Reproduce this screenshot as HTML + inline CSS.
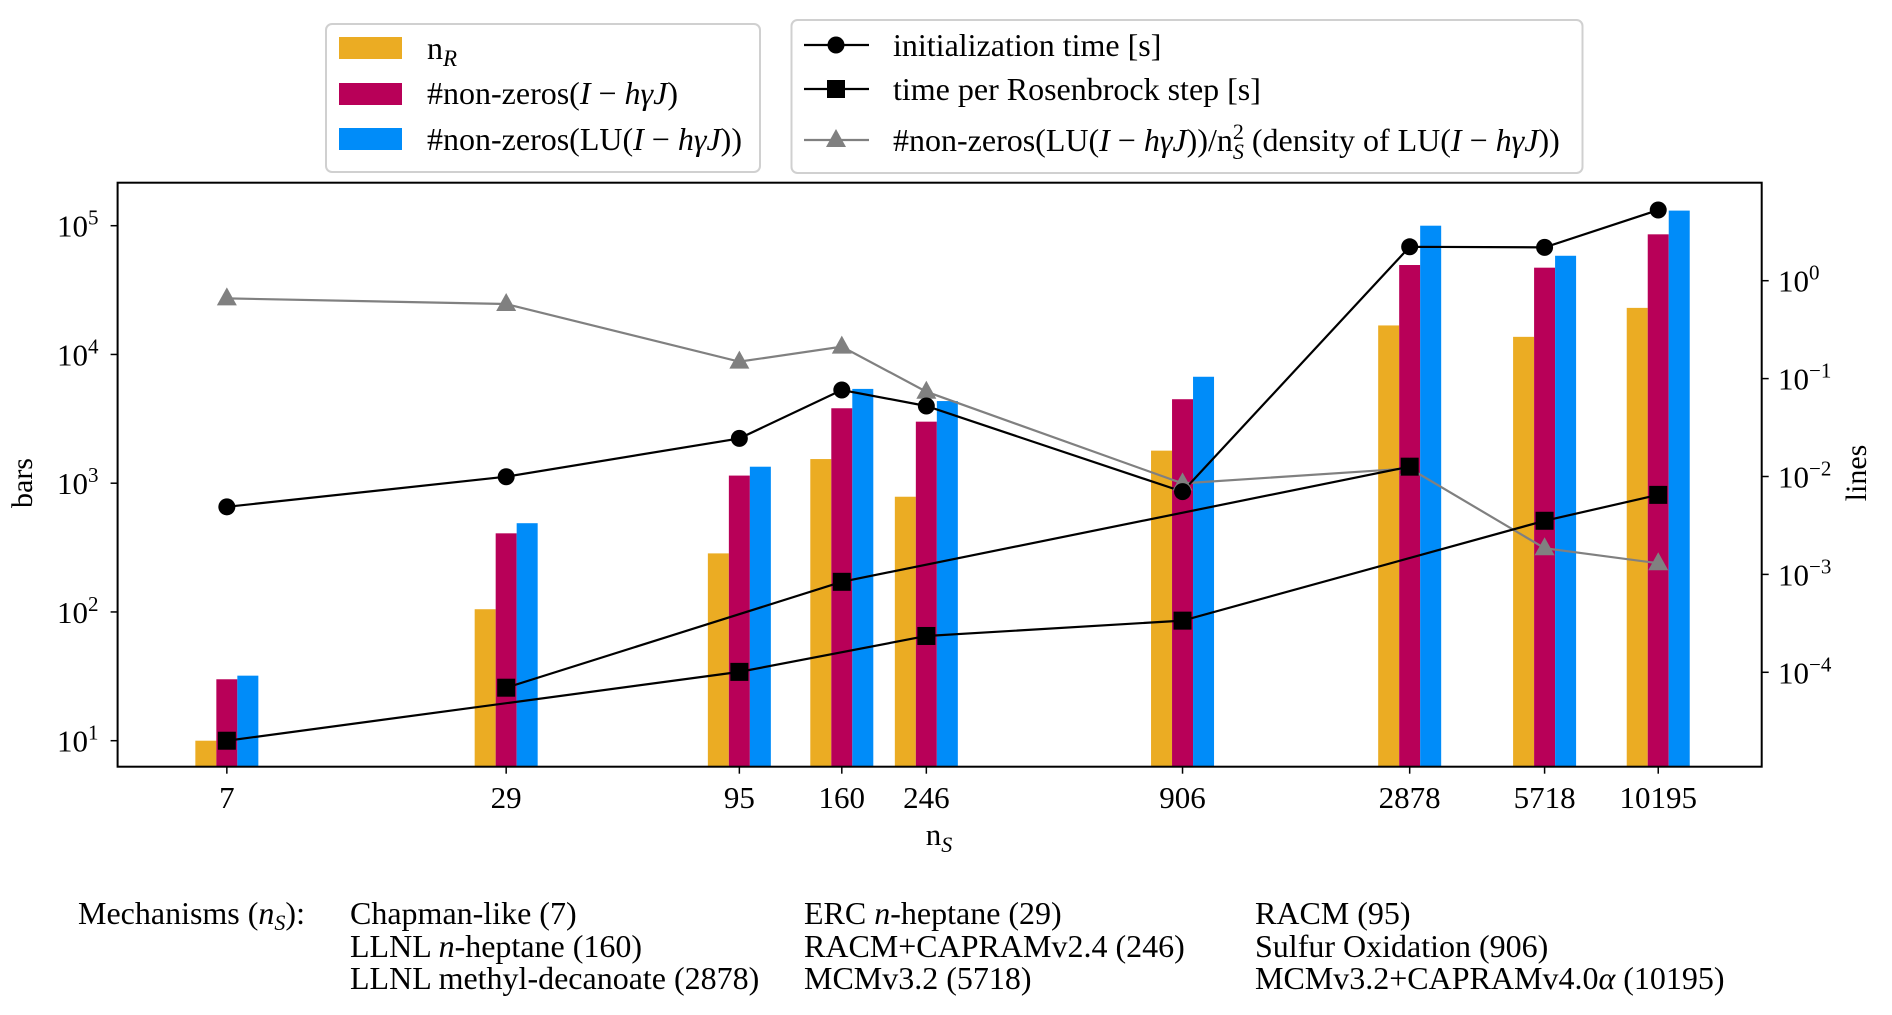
<!DOCTYPE html>
<html><head><meta charset="utf-8">
<style>
html,body{margin:0;padding:0;background:#fff;}
svg{display:block;font-family:"Liberation Serif",serif;}
</style></head>
<body>
<svg id="chart" width="1892" height="1015" viewBox="0 0 1892 1015" xmlns="http://www.w3.org/2000/svg">
  <g id="bars"></g>
  <g id="lines"></g>
  <rect x="117.6" y="182.7" width="1644.1" height="584" fill="none" stroke="#000" stroke-width="2"/>
  <g id="axes" font-size="31"></g>
  <text x="32" y="483" font-size="30" text-anchor="middle" transform="rotate(-90 32 483)">bars</text>
  <text x="1866" y="473" font-size="30" text-anchor="middle" transform="rotate(-90 1866 473)">lines</text>
  <text x="939" y="845" font-size="31" text-anchor="middle">n<tspan font-style="italic" font-size="22" dy="7">S</tspan></text>

  <g>
    <rect x="326" y="24" width="434" height="148" rx="6" fill="#fff" stroke="#d0d0d0" stroke-width="2"/>
    <rect x="339" y="37" width="63" height="22" fill="#EBAC23"/>
    <text x="427" y="59" font-size="32">n<tspan font-style="italic" font-size="23" dy="7">R</tspan></text>
    <rect x="339" y="83" width="63" height="22" fill="#B80058"/>
    <text x="427" y="104" font-size="32">#non-zeros(<tspan font-style="italic">I</tspan> − <tspan font-style="italic">hγJ</tspan>)</text>
    <rect x="339" y="128" width="63" height="22" fill="#008CF9"/>
    <text x="427" y="150" font-size="32">#non-zeros(LU(<tspan font-style="italic">I</tspan> − <tspan font-style="italic">hγJ</tspan>))</text>
  </g>
  <g>
    <rect x="791.5" y="20" width="791" height="153" rx="6" fill="#fff" stroke="#d0d0d0" stroke-width="2"/>
    <line x1="804" y1="45" x2="869" y2="45" stroke="#000" stroke-width="2.2"/>
    <circle cx="836" cy="45" r="8.5" fill="#000"/>
    <text x="893" y="56" font-size="32">initialization time [s]</text>
    <line x1="804" y1="89" x2="869" y2="89" stroke="#000" stroke-width="2.2"/>
    <rect x="827" y="80" width="18" height="18" fill="#000"/>
    <text x="893" y="100" font-size="32">time per Rosenbrock step [s]</text>
    <line x1="804" y1="140" x2="869" y2="140" stroke="#808080" stroke-width="2.2"/>
    <polygon points="836,129 846,147 826,147" fill="#808080"/>
    <text x="893" y="151" font-size="32">#non-zeros(LU(<tspan font-style="italic">I</tspan> − <tspan font-style="italic">hγJ</tspan>))/n<tspan font-size="22" dy="-12">2</tspan><tspan font-size="22" font-style="italic" dx="-11" dy="20">S</tspan><tspan dy="-8"> (density of LU(</tspan><tspan font-style="italic">I</tspan> − <tspan font-style="italic">hγJ</tspan>))</text>
  </g>

  <g font-size="32">
    <text x="78" y="924">Mechanisms (<tspan font-style="italic">n</tspan><tspan font-style="italic" font-size="22" dy="6">S</tspan><tspan dy="-6">):</tspan></text>
    <text x="350" y="924">Chapman-like (7)</text>
    <text x="350" y="957">LLNL <tspan font-style="italic">n</tspan>-heptane (160)</text>
    <text x="350" y="989">LLNL methyl-decanoate (2878)</text>
    <text x="804" y="924">ERC <tspan font-style="italic">n</tspan>-heptane (29)</text>
    <text x="804" y="957">RACM+CAPRAMv2.4 (246)</text>
    <text x="804" y="989">MCMv3.2 (5718)</text>
    <text x="1255" y="924">RACM (95)</text>
    <text x="1255" y="957">Sulfur Oxidation (906)</text>
    <text x="1255" y="989">MCMv3.2+CAPRAMv4.0<tspan font-style="italic">α</tspan> (10195)</text>
  </g>
</svg>
<script>
const nS = [7, 29, 95, 160, 246, 906, 2878, 5718, 10195];
const nR = [10, 105, 285, 1540, 785, 1790, 16800, 13700, 23000];
const nnz = [30, 408, 1146, 3820, 3006, 4490, 49500, 47200, 85700];
const nnzLU = [32, 489, 1343, 5400, 4345, 6710, 100000, 58400, 131000];
const initTime = [0.0049, 0.00995, 0.0245, 0.0765, 0.0525, 0.0070, 2.22, 2.19, 5.27];
const stepTime = [2.0e-5, 6.96e-5, 1.01e-4, 8.4e-4, 2.35e-4, 3.37e-4, 0.0126, 0.00353, 0.00649];
const density = [0.66, 0.578, 0.149, 0.212, 0.0735, 0.0085, 0.0121, 0.00185, 0.0013];
const stepGroupA = [0, 2, 4, 5, 7, 8];
const stepGroupB = [1, 3, 6];
const leftTicks = [10, 100, 1000, 10000, 100000];
const leftTickExp = ["1", "2", "3", "4", "5"];
const rightTicks = [1, 0.1, 0.01, 0.001, 0.0001];
const rightTickExp = ["0", "−1", "−2", "−3", "−4"];

const NS = "http://www.w3.org/2000/svg";
const xS = n => 226.8 + (Math.log10(n) - 0.845) * 452.5;
const yL = v => 740.7 - (Math.log10(v) - 1) * 128.75;
const yR = v => 280.7 - Math.log10(v) * 97.9;
const BOTTOM = 766.7, BW = 21;

function mk(tag, attrs, parent) {
  const e = document.createElementNS(NS, tag);
  for (const k in attrs) e.setAttribute(k, attrs[k]);
  parent.appendChild(e);
  return e;
}
const gBars = document.getElementById('bars');
const gLines = document.getElementById('lines');
const gAxes = document.getElementById('axes');

const series = [[nR, '#EBAC23', -1, 'bar-nr'], [nnz, '#B80058', 0, 'bar-nnz'], [nnzLU, '#008CF9', 1, 'bar-nnz-lu']];
series.forEach(([vals, col, off, name]) => {
  vals.forEach((v, i) => {
    const x = xS(nS[i]) + off * BW - BW / 2;
    const y = yL(v);
    const r = mk('rect', {x: x, y: y, width: BW, height: BOTTOM - y, fill: col}, gBars);
    
    
  });
});

function polyline(idx, vals, col, name) {
  const pts = idx.map(i => xS(nS[i]) + ',' + yR(vals[i])).join(' ');
  const p = mk('polyline', {points: pts, fill: 'none', stroke: col, 'stroke-width': 2.2}, gLines);
  
  
}
const allIdx = nS.map((_, i) => i);
polyline(allIdx, density, '#808080', 'density-line');
polyline(allIdx, initTime, '#000', 'init-time-line');
polyline(stepGroupA, stepTime, '#000', 'step-time-line-atmospheric');
polyline(stepGroupB, stepTime, '#000', 'step-time-line-combustion');

nS.forEach((n, i) => {
  const x = xS(n);
  let y = yR(density[i]);
  const t = mk('polygon', {points: `${x},${y-11} ${x+10},${y+7} ${x-10},${y+7}`, fill: '#808080'}, gLines);
  
  
  y = yR(initTime[i]);
  const c = mk('circle', {cx: x, cy: y, r: 8.5, fill: '#000'}, gLines);
  
  
  y = yR(stepTime[i]);
  const s = mk('rect', {x: x - 9, y: y - 9, width: 18, height: 18, fill: '#000'}, gLines);
  
  
});

nS.forEach(n => {
  const x = xS(n);
  mk('line', {x1: x, y1: BOTTOM, x2: x, y2: BOTTOM + 7, stroke: '#000', 'stroke-width': 1.5}, gAxes);
  const t = mk('text', {x: x, y: 808, 'text-anchor': 'middle'}, gAxes);
  t.textContent = n;
  
  
});
leftTicks.forEach((v, i) => {
  const y = yL(v);
  mk('line', {x1: 117.6, y1: y, x2: 110.6, y2: y, stroke: '#000', 'stroke-width': 1.5}, gAxes);
  const t = mk('text', {x: 57, y: y + 11}, gAxes);
  t.textContent = '10';
  mk('tspan', {dy: -12, 'font-size': 21}, t).textContent = leftTickExp[i];
  
  
});
rightTicks.forEach((v, i) => {
  const y = yR(v);
  mk('line', {x1: 1761.7, y1: y, x2: 1768.7, y2: y, stroke: '#000', 'stroke-width': 1.5}, gAxes);
  const t = mk('text', {x: 1778, y: y + 11}, gAxes);
  t.textContent = '10';
  mk('tspan', {dy: -12, 'font-size': 21}, t).textContent = rightTickExp[i];
  
  
});
</script>
</body></html>
